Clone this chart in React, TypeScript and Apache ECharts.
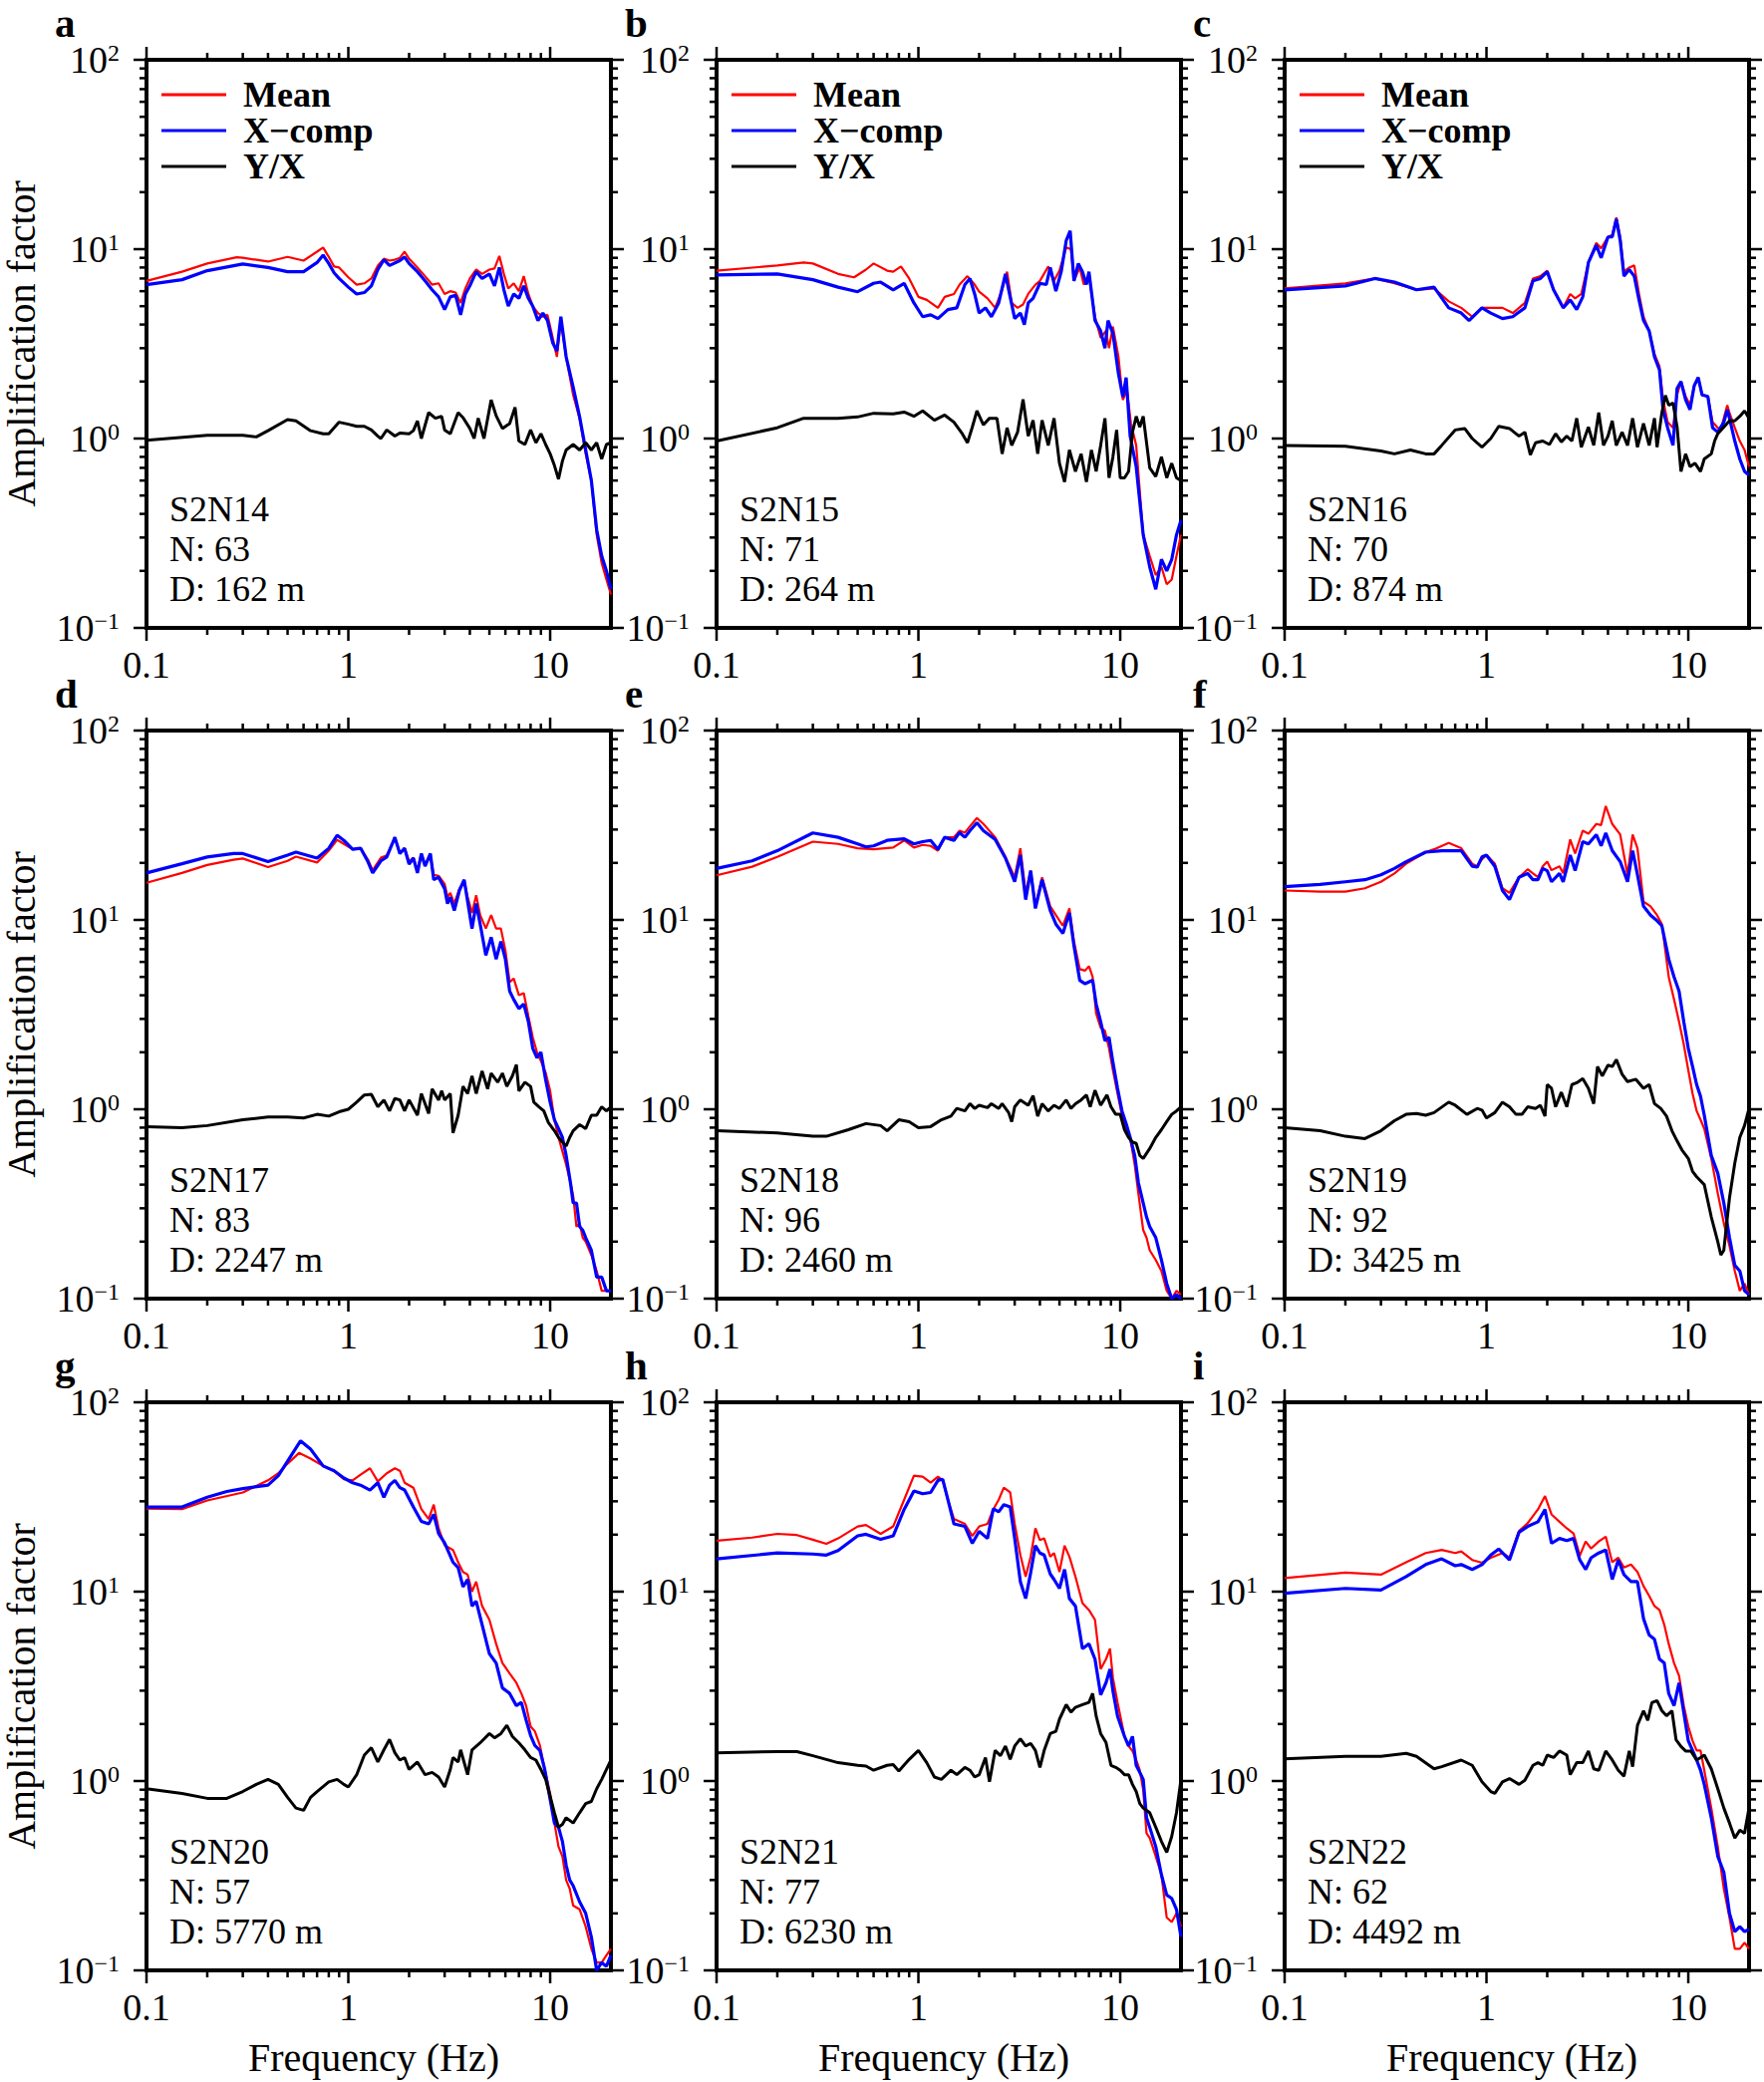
import React, { useEffect, useRef } from "react";
import * as echarts from "echarts";

type P = [number, number][];

// ---------- Tick positions ----------
const X_MAJOR = [0.1, 1, 10];
const X_MINOR = [0.2, 0.3, 0.4, 0.5, 0.6, 0.7, 0.8, 0.9, 2, 3, 4, 5, 6, 7, 8, 9];
const Y_MAJOR = [0.1, 1, 10, 100];
const Y_MINOR = [0.2, 0.3, 0.4, 0.5, 0.6, 0.7, 0.8, 0.9, 2, 3, 4, 5, 6, 7, 8, 9, 20, 30, 40, 50, 60, 70, 80, 90];

// ---------- Panel a: S2N14 ----------
const s2n14Mean: P = [[0.1,6.8],[0.15,7.6],[0.2,8.4],[0.28,9.06],[0.3,9.0],[0.4,8.6],[0.5,9.1],[0.6,8.7],[0.7,9.7],[0.75,10.2],[0.8,9.1],[0.85,8.1],[0.9,8.0],[1.0,7.1],[1.1,6.5],[1.2,6.6],[1.3,7.0],[1.4,8.2],[1.5,8.9],[1.6,8.7],[1.7,8.8],[1.8,9.0],[1.9,9.7],[2.0,8.9],[2.2,8.0],[2.4,7.2],[2.6,6.5],[2.8,6.6],[3.0,5.8],[3.2,6.0],[3.4,5.9],[3.6,5.2],[3.8,6.2],[4.0,7.0],[4.3,7.8],[4.6,7.4],[5.0,7.8],[5.3,7.9],[5.6,9.2],[5.9,7.4],[6.2,6.2],[6.6,6.6],[7.0,6.0],[7.4,7.2],[7.8,5.8],[8.2,5.0],[8.7,4.6],[9.2,4.4],[9.7,4.5],[10.3,3.4],[10.8,2.7],[11.3,4.2],[12,2.7],[13,1.7],[14,1.27],[15,0.83],[16,0.6],[17,0.31],[18,0.22],[19,0.18],[20,0.15]];
const s2n14X: P = [[0.1,6.5],[0.15,6.9],[0.2,7.7],[0.3,8.35],[0.4,8.0],[0.5,7.6],[0.6,7.6],[0.7,8.5],[0.75,9.3],[0.8,8.4],[0.85,7.5],[0.9,7.0],[1.0,6.3],[1.1,5.8],[1.2,5.9],[1.3,6.4],[1.4,7.8],[1.5,8.8],[1.6,8.2],[1.8,8.7],[1.9,9.1],[2.0,8.4],[2.2,7.6],[2.4,6.8],[2.6,6.1],[2.8,5.6],[3.0,4.8],[3.2,5.6],[3.4,5.7],[3.6,4.5],[3.8,5.8],[4.0,6.4],[4.3,7.6],[4.6,7.0],[5.0,7.4],[5.3,6.4],[5.6,8.0],[5.9,6.1],[6.2,5.0],[6.6,5.8],[7.0,5.5],[7.4,6.4],[7.8,5.5],[8.2,5.0],[8.7,4.2],[9.2,4.6],[9.7,4.2],[10.3,3.2],[10.8,2.9],[11.3,4.4],[12,2.7],[13,1.87],[14,1.3],[15,0.87],[16,0.6],[17,0.33],[18,0.24],[19,0.2],[20,0.16]];
const s2n14YX: P = [[0.1,0.98],[0.2,1.04],[0.3,1.04],[0.35,1.02],[0.4,1.10],[0.5,1.26],[0.55,1.24],[0.65,1.10],[0.75,1.06],[0.8,1.06],[0.9,1.22],[1.0,1.19],[1.1,1.16],[1.2,1.16],[1.3,1.11],[1.4,1.03],[1.45,1.0],[1.55,1.11],[1.7,1.03],[1.8,1.07],[2.0,1.06],[2.1,1.10],[2.2,1.24],[2.3,1.0],[2.5,1.37],[2.7,1.28],[2.9,1.31],[3.0,1.11],[3.2,1.06],[3.5,1.37],[3.7,1.29],[4.0,1.13],[4.2,1.0],[4.4,1.28],[4.7,1.0],[5.1,1.6],[5.4,1.32],[5.8,1.13],[6.3,1.2],[6.7,1.46],[7.0,0.97],[7.5,0.93],[8.0,1.11],[8.5,0.95],[9.0,1.06],[9.5,0.93],[10,0.83],[10.5,0.72],[11,0.61],[11.5,0.76],[12,0.87],[13,0.93],[14,0.87],[15,0.95],[16,0.87],[17,0.95],[18,0.78],[19,0.93],[20,0.95]];

// ---------- Panel b: S2N15 ----------
const s2n15Mean: P = [[0.1,7.7],[0.2,8.2],[0.27,8.5],[0.3,8.4],[0.4,7.4],[0.48,7.1],[0.55,7.8],[0.6,8.4],[0.7,7.7],[0.75,7.6],[0.82,8.1],[0.9,7.0],[1.0,5.6],[1.1,5.4],[1.25,4.9],[1.35,5.6],[1.5,5.8],[1.6,6.5],[1.75,7.2],[1.9,6.5],[2.0,5.96],[2.2,5.5],[2.4,4.9],[2.6,6.1],[2.75,7.6],[2.9,5.2],[3.1,4.9],[3.3,5.1],[3.5,5.8],[3.8,6.5],[4.0,6.8],[4.4,8.1],[4.7,6.8],[5.0,7.7],[5.4,10.2],[5.7,10.0],[5.9,6.8],[6.3,8.0],[6.6,6.5],[7.0,7.2],[7.5,4.4],[8,3.4],[8.5,3.7],[8.8,3.0],[9.2,3.9],[9.8,2.7],[10.3,1.6],[10.8,1.8],[11.3,1.2],[12,0.92],[13,0.31],[14,0.24],[15,0.19],[16,0.21],[17,0.17],[18,0.18],[19,0.24],[20,0.31]];
const s2n15X: P = [[0.1,7.3],[0.2,7.4],[0.3,6.9],[0.4,6.3],[0.5,5.96],[0.6,6.6],[0.65,6.7],[0.75,6.1],[0.85,6.6],[0.95,5.2],[1.05,4.4],[1.15,4.5],[1.25,4.3],[1.4,4.8],[1.55,4.9],[1.7,6.5],[1.8,7.0],[1.9,5.8],[2.0,4.6],[2.15,4.9],[2.3,4.4],[2.5,5.2],[2.7,7.4],[2.8,6.1],[3.0,4.3],[3.2,4.6],[3.35,4.0],[3.5,5.2],[3.7,5.5],[4.0,6.6],[4.3,6.5],[4.5,8.0],[4.8,6.0],[5.1,7.6],[5.4,11.1],[5.65,12.5],[5.9,6.8],[6.2,8.4],[6.5,7.6],[6.8,6.5],[7.0,7.6],[7.5,4.2],[8.0,3.7],[8.4,3.0],[8.7,4.2],[9.2,3.6],[9.8,2.2],[10.3,1.66],[10.7,2.1],[11.2,1.03],[12,0.71],[13,0.31],[14,0.21],[15,0.16],[16,0.23],[17,0.2],[18,0.23],[19,0.31],[20,0.37]];
const s2n15YX: P = [[0.1,0.97],[0.2,1.14],[0.27,1.28],[0.4,1.28],[0.5,1.3],[0.6,1.36],[0.75,1.35],[0.85,1.38],[0.95,1.31],[1.05,1.4],[1.2,1.25],[1.35,1.33],[1.5,1.22],[1.65,1.06],[1.75,0.95],[1.85,1.15],[1.95,1.4],[2.1,1.18],[2.25,1.28],[2.45,1.28],[2.6,0.83],[2.75,1.14],[2.9,0.92],[3.1,1.08],[3.3,1.61],[3.5,1.03],[3.7,1.25],[3.9,0.83],[4.1,1.25],[4.4,0.92],[4.7,1.28],[5.0,0.74],[5.3,0.59],[5.6,0.87],[6.0,0.67],[6.4,0.83],[6.8,0.59],[7.2,0.87],[7.6,0.67],[8.0,0.92],[8.4,1.28],[8.8,0.62],[9.2,0.8],[9.6,1.11],[10,0.62],[10.5,0.62],[11,0.67],[11.5,1.08],[12,1.31],[12.5,1.15],[13,1.31],[14,0.7],[15,0.63],[16,0.8],[17,0.62],[18,0.74],[19,0.62],[20,0.6]];

// ---------- Panel c: S2N16 ----------
const s2n16Mean: P = [[0.1,6.2],[0.2,6.6],[0.28,7.0],[0.35,6.6],[0.45,6.1],[0.55,6.2],[0.65,5.3],[0.75,4.9],[0.85,4.4],[0.95,4.9],[1.05,4.9],[1.2,4.9],[1.35,4.6],[1.55,5.2],[1.7,7.0],[1.85,7.2],[2.0,7.7],[2.15,6.1],[2.4,4.9],[2.6,5.8],[2.75,5.5],[2.95,5.8],[3.2,8.5],[3.5,10.8],[3.7,10.1],[4.0,11.6],[4.2,11.9],[4.4,14.7],[4.6,11.6],[4.8,7.6],[5.1,8.0],[5.4,8.2],[5.7,5.8],[6.0,4.4],[6.4,3.7],[6.8,2.8],[7.2,2.4],[7.5,1.6],[7.9,1.22],[8.4,1.14],[8.8,1.7],[9.2,2.0],[9.7,1.67],[10.2,1.5],[10.7,1.9],[11.2,2.1],[11.7,1.7],[12.5,1.67],[13.2,1.22],[14,1.14],[14.5,1.11],[15,1.28],[15.6,1.5],[16,1.37],[17,1.14],[18,0.97],[19,0.87],[20,0.71]];
const s2n16X: P = [[0.1,6.1],[0.2,6.4],[0.28,7.0],[0.35,6.7],[0.45,6.1],[0.55,6.3],[0.65,4.9],[0.75,4.6],[0.82,4.2],[0.95,4.9],[1.05,4.6],[1.2,4.3],[1.35,4.4],[1.55,4.9],[1.7,6.8],[1.85,7.0],[2.0,7.6],[2.15,6.1],[2.4,4.9],[2.6,5.4],[2.8,4.8],[3.0,5.6],[3.2,8.5],[3.5,10.5],[3.7,9.0],[4.0,11.6],[4.2,11.6],[4.4,14.4],[4.6,11.1],[4.8,7.2],[5.1,7.8],[5.4,7.2],[5.7,5.4],[6.0,4.2],[6.4,3.7],[6.8,2.7],[7.2,2.3],[7.5,1.42],[7.9,1.14],[8.4,0.92],[8.8,1.84],[9.2,2.0],[9.7,1.6],[10.2,1.42],[10.7,1.9],[11.2,2.1],[11.7,1.7],[12.5,1.67],[13.2,1.14],[14,1.08],[15,1.22],[15.6,1.42],[16,1.28],[17,0.97],[18,0.78],[19,0.67],[20,0.64]];
const s2n16YX: P = [[0.1,0.92],[0.2,0.91],[0.3,0.86],[0.35,0.83],[0.42,0.87],[0.5,0.83],[0.55,0.83],[0.6,0.92],[0.7,1.11],[0.78,1.13],[0.85,1.0],[0.95,0.9],[1.05,1.0],[1.15,1.16],[1.3,1.13],[1.45,1.03],[1.55,1.08],[1.65,0.82],[1.75,0.95],[1.9,0.97],[2.05,0.93],[2.2,1.06],[2.35,0.96],[2.5,1.03],[2.65,0.97],[2.8,1.28],[2.95,0.9],[3.2,1.15],[3.4,0.92],[3.6,1.37],[3.8,0.92],[4.0,1.03],[4.2,1.24],[4.4,0.92],[4.7,1.08],[5.0,0.92],[5.3,1.28],[5.6,0.9],[6.0,1.2],[6.4,0.92],[6.8,1.28],[7.0,0.9],[7.4,1.37],[7.7,1.69],[8.0,1.5],[8.4,1.54],[8.8,1.15],[9.2,0.67],[9.7,0.83],[10.2,0.71],[10.8,0.74],[11.5,0.67],[12,0.78],[13,0.83],[13.5,0.97],[14,1.06],[15,1.15],[16,1.24],[17,1.24],[18,1.31],[19,1.4],[20,1.28]];

// ---------- Panel d: S2N17 ----------
const s2n17Mean: P = [[0.1,15.7],[0.15,17.7],[0.2,19.5],[0.27,20.8],[0.3,21.1],[0.4,19.0],[0.5,20.5],[0.55,21.6],[0.7,20.1],[0.8,23.2],[0.88,26.5],[0.95,25.2],[1.05,23.6],[1.15,23.9],[1.25,20.8],[1.32,18.3],[1.45,21.3],[1.55,21.9],[1.65,25.2],[1.7,27.3],[1.8,22.4],[1.9,23.9],[2.0,20.3],[2.1,21.3],[2.2,18.3],[2.3,22.4],[2.4,19.7],[2.55,21.6],[2.65,17.3],[2.8,17.1],[3.0,15.5],[3.1,13.2],[3.2,13.9],[3.35,12.2],[3.55,14.6],[3.75,15.9],[3.9,13.2],[4.1,10.9],[4.3,13.5],[4.5,10.6],[4.8,9.0],[5.1,10.6],[5.4,9.0],[5.7,9.0],[6.0,6.9],[6.3,4.7],[6.6,4.9],[7.0,4.0],[7.4,4.1],[7.8,3.1],[8.2,2.4],[8.6,2.0],[9.0,1.8],[9.5,1.56],[10,1.25],[10.5,0.88],[11,0.71],[11.5,0.6],[12,0.51],[12.6,0.41],[13,0.35],[13.5,0.24],[14,0.25],[14.5,0.21],[15,0.2],[16,0.17],[17,0.14],[18,0.11],[19,0.11],[20,0.11]];
const s2n17X: P = [[0.1,17.7],[0.15,19.8],[0.2,21.5],[0.27,22.4],[0.3,22.4],[0.4,20.3],[0.5,22.0],[0.55,22.8],[0.7,21.2],[0.8,23.9],[0.88,28.0],[0.95,26.3],[1.05,23.6],[1.15,23.9],[1.25,20.3],[1.32,17.7],[1.45,20.5],[1.55,21.5],[1.65,25.2],[1.7,27.3],[1.8,22.4],[1.9,23.9],[2.0,19.7],[2.1,21.2],[2.2,17.7],[2.3,22.4],[2.4,19.2],[2.55,22.4],[2.65,16.3],[2.8,16.8],[3.0,14.6],[3.1,12.2],[3.2,13.2],[3.35,11.2],[3.55,14.3],[3.75,16.3],[3.9,12.5],[4.1,9.0],[4.3,12.2],[4.5,9.5],[4.8,6.5],[5.1,8.1],[5.4,6.2],[5.7,7.7],[6.0,6.2],[6.3,4.2],[6.6,3.8],[7.0,3.4],[7.4,3.6],[7.8,2.9],[8.2,2.1],[8.6,1.87],[9.0,2.0],[9.5,1.43],[10,1.09],[10.5,0.88],[11,0.79],[11.5,0.71],[12,0.57],[12.6,0.41],[13,0.32],[13.5,0.32],[14,0.24],[14.5,0.23],[15,0.21],[16,0.18],[17,0.13],[18,0.13],[19,0.11],[20,0.11]];
const s2n17YX: P = [[0.1,0.81],[0.15,0.8],[0.2,0.82],[0.3,0.88],[0.4,0.91],[0.5,0.91],[0.6,0.9],[0.7,0.94],[0.8,0.92],[0.9,0.97],[1.0,1.0],[1.1,1.09],[1.2,1.19],[1.3,1.2],[1.4,1.03],[1.5,1.12],[1.6,0.98],[1.7,1.14],[1.8,1.12],[1.9,0.98],[2.0,1.12],[2.2,0.93],[2.3,1.21],[2.5,0.95],[2.6,1.28],[2.8,1.12],[2.9,1.25],[3.0,1.12],[3.2,1.21],[3.3,0.75],[3.5,0.93],[3.7,1.32],[3.9,1.21],[4.1,1.5],[4.3,1.21],[4.6,1.59],[4.9,1.28],[5.1,1.55],[5.5,1.39],[5.8,1.55],[6.1,1.32],[6.5,1.5],[6.8,1.72],[7.0,1.25],[7.5,1.39],[8.0,1.32],[8.3,1.09],[8.8,1.03],[9.3,0.98],[9.8,0.85],[10.5,0.77],[11,0.71],[11.5,0.67],[12,0.64],[12.5,0.71],[13,0.77],[14,0.83],[15,0.79],[16,0.93],[17,0.93],[18,1.03],[19,0.98],[20,1.03]];

// ---------- Panel e: S2N18 ----------
const s2n18Mean: P = [[0.1,17.2],[0.15,19.1],[0.2,21.5],[0.3,25.9],[0.4,25.2],[0.5,23.9],[0.6,23.6],[0.75,24.1],[0.85,26.3],[0.95,24.1],[1.05,24.9],[1.15,24.6],[1.25,23.2],[1.35,27.3],[1.5,27.3],[1.6,29.6],[1.7,28.9],[1.8,31.2],[1.95,34.5],[2.1,32.1],[2.4,27.3],[2.7,21.5],[3.0,16.8],[3.2,23.9],[3.4,13.9],[3.6,18.2],[3.8,11.8],[4.1,16.8],[4.5,11.8],[4.8,10.6],[5.2,9.3],[5.6,11.5],[5.9,7.7],[6.3,5.5],[6.7,5.4],[7.0,5.7],[7.3,5.0],[7.6,3.2],[8.0,2.7],[8.4,2.6],[8.8,2.1],[9.2,1.61],[9.7,1.21],[10.2,0.93],[10.7,0.79],[11.2,0.71],[11.8,0.51],[12.3,0.36],[13,0.23],[13.5,0.21],[14,0.18],[15,0.16],[16,0.14],[17,0.11],[18,0.1],[19,0.11],[20,0.105]];
const s2n18X: P = [[0.1,18.7],[0.15,20.5],[0.2,23.2],[0.3,28.8],[0.4,27.3],[0.5,25.2],[0.55,24.3],[0.6,24.6],[0.7,26.3],[0.85,26.8],[0.95,25.2],[1.05,25.9],[1.15,26.3],[1.25,23.6],[1.35,27.3],[1.5,26.3],[1.6,28.9],[1.7,27.3],[1.8,29.6],[1.95,32.6],[2.1,29.6],[2.4,26.6],[2.7,21.2],[3.0,15.9],[3.2,22.0],[3.4,12.8],[3.6,18.2],[3.8,11.5],[4.1,16.3],[4.5,11.2],[4.8,9.5],[5.2,8.5],[5.6,10.9],[5.9,7.3],[6.3,4.8],[6.7,4.6],[7.0,4.7],[7.3,4.8],[7.6,3.6],[8.0,2.9],[8.4,2.3],[8.8,2.4],[9.2,1.77],[9.7,1.29],[10.2,0.98],[10.7,0.84],[11.2,0.71],[11.8,0.57],[12.3,0.41],[13,0.32],[13.5,0.27],[14,0.24],[15,0.21],[16,0.16],[17,0.12],[18,0.1],[19,0.105],[20,0.1]];
const s2n18YX: P = [[0.1,0.77],[0.2,0.75],[0.3,0.72],[0.35,0.72],[0.45,0.78],[0.55,0.84],[0.65,0.82],[0.7,0.77],[0.8,0.88],[0.9,0.86],[1.0,0.8],[1.15,0.81],[1.3,0.88],[1.45,0.92],[1.55,1.01],[1.7,0.98],[1.8,1.07],[1.9,1.01],[2.0,1.05],[2.2,1.02],[2.3,1.07],[2.5,1.01],[2.6,1.07],[2.8,0.96],[2.9,0.86],[3.0,1.03],[3.2,1.12],[3.5,1.05],[3.7,1.18],[3.9,0.92],[4.1,1.07],[4.4,0.98],[4.7,1.05],[5.0,1.01],[5.4,1.12],[5.7,1.01],[6.0,1.07],[6.4,1.12],[6.8,1.19],[7.1,1.03],[7.5,1.26],[8.0,1.05],[8.6,1.19],[9.0,1.03],[9.5,0.94],[10,0.94],[10.5,0.78],[11,0.71],[11.5,0.67],[12,0.66],[12.5,0.57],[13,0.55],[14,0.62],[15,0.71],[16,0.78],[17,0.86],[18,0.94],[19,0.98],[20,1.03]];

// ---------- Panel f: S2N19 ----------
const s2n19Mean: P = [[0.1,14.3],[0.15,14.1],[0.2,14.1],[0.25,14.7],[0.3,15.9],[0.35,17.6],[0.4,19.8],[0.5,22.8],[0.55,23.6],[0.65,25.5],[0.75,23.9],[0.85,19.8],[0.9,19.2],[0.95,20.9],[1.0,22.0],[1.1,19.8],[1.2,14.7],[1.3,13.9],[1.45,16.8],[1.6,18.5],[1.7,17.6],[1.8,16.8],[1.9,19.2],[2.0,20.3],[2.1,18.3],[2.3,19.2],[2.4,17.6],[2.6,26.6],[2.75,22.4],[3.0,29.6],[3.2,28.5],[3.5,32.1],[3.7,31.7],[3.9,39.9],[4.2,32.1],[4.6,28.2],[5.0,17.3],[5.3,28.2],[5.6,23.9],[6.0,12.5],[6.5,11.8],[7.0,10.6],[7.4,9.5],[8.0,5.0],[8.5,3.8],[9.0,2.9],[9.5,2.2],[10,1.61],[10.5,1.21],[11,0.98],[11.5,0.88],[12,0.79],[13,0.55],[14,0.36],[15,0.25],[16,0.19],[17,0.14],[18,0.11],[19,0.12],[20,0.105]];
const s2n19X: P = [[0.1,15.0],[0.15,15.4],[0.2,15.9],[0.25,16.3],[0.3,17.3],[0.35,18.7],[0.4,20.3],[0.5,22.8],[0.6,23.2],[0.75,23.2],[0.85,19.2],[0.9,19.0],[0.95,21.5],[1.0,22.0],[1.1,19.2],[1.2,14.3],[1.3,12.8],[1.45,16.8],[1.6,17.6],[1.7,16.3],[1.8,16.3],[1.9,18.7],[2.0,18.2],[2.1,15.9],[2.3,17.6],[2.4,15.9],[2.6,22.0],[2.75,18.2],[3.0,25.9],[3.2,25.2],[3.5,28.2],[3.7,24.6],[3.9,28.8],[4.2,23.2],[4.6,20.3],[5.0,15.9],[5.3,23.2],[5.6,17.3],[6.0,11.8],[6.5,10.6],[7.0,9.9],[7.4,9.3],[8.0,6.2],[8.5,5.0],[9.0,4.2],[9.5,2.9],[10,2.1],[10.5,1.68],[11,1.35],[11.5,1.17],[12,0.93],[13,0.57],[14,0.46],[15,0.32],[16,0.21],[17,0.15],[18,0.14],[19,0.11],[20,0.105]];
const s2n19YX: P = [[0.1,0.8],[0.15,0.77],[0.2,0.72],[0.25,0.7],[0.3,0.77],[0.35,0.87],[0.4,0.94],[0.45,0.95],[0.5,0.93],[0.55,0.96],[0.65,1.09],[0.7,1.05],[0.8,0.94],[0.9,1.01],[0.95,0.99],[1.0,0.9],[1.1,0.96],[1.2,1.09],[1.3,1.03],[1.4,0.94],[1.5,0.94],[1.6,1.03],[1.75,1.01],[1.85,1.05],[1.95,0.92],[2.0,1.35],[2.1,1.29],[2.2,1.03],[2.35,1.23],[2.5,1.03],[2.65,1.35],[2.8,1.38],[3.0,1.45],[3.2,1.29],[3.4,1.07],[3.55,1.68],[3.75,1.5],[4.0,1.71],[4.2,1.68],[4.4,1.83],[4.7,1.53],[5.0,1.4],[5.5,1.44],[6.0,1.29],[6.4,1.35],[6.8,1.07],[7.3,1.01],[7.8,0.92],[8.3,0.77],[8.8,0.68],[9.3,0.61],[10,0.55],[10.5,0.47],[11,0.44],[12,0.4],[13,0.27],[14,0.2],[14.5,0.17],[15,0.18],[15.5,0.25],[16,0.34],[17,0.52],[18,0.71],[19,0.82],[20,1.01]];

// ---------- Panel g: S2N20 ----------
const s2n20Mean: P = [[0.1,27.5],[0.15,27.3],[0.2,30.3],[0.3,33.4],[0.4,38.7],[0.45,42.2],[0.5,47.4],[0.57,54.0],[0.65,50.4],[0.75,46.1],[0.85,43.5],[0.95,39.2],[1.05,38.7],[1.15,41.5],[1.28,44.8],[1.4,38.2],[1.55,42.2],[1.7,44.8],[1.8,43.5],[1.9,37.6],[2.1,35.4],[2.3,27.3],[2.5,24.2],[2.65,28.8],[2.8,21.6],[3.0,17.6],[3.3,16.6],[3.5,14.3],[3.7,12.7],[3.9,12.3],[4.1,10.0],[4.3,11.3],[4.6,8.4],[5.0,7.1],[5.4,5.3],[5.8,4.2],[6.3,3.7],[6.8,3.3],[7.2,2.9],[7.6,2.5],[8.0,1.94],[8.4,1.83],[8.9,1.54],[9.4,1.15],[10,0.86],[10.5,0.6],[11,0.45],[11.5,0.4],[12,0.3],[12.5,0.27],[13,0.22],[14,0.21],[15,0.17],[16,0.13],[17,0.11],[18,0.11],[19,0.12],[20,0.13]];
const s2n20X: P = [[0.1,28.0],[0.15,28.0],[0.2,31.5],[0.25,33.8],[0.3,35.0],[0.4,36.5],[0.45,41.0],[0.5,48.9],[0.58,62.6],[0.65,56.6],[0.75,46.1],[0.85,43.5],[0.95,39.8],[1.05,37.6],[1.15,36.5],[1.28,34.4],[1.4,37.6],[1.5,31.5],[1.6,36.5],[1.7,38.7],[1.8,35.4],[1.9,34.4],[2.1,28.0],[2.3,23.5],[2.5,22.8],[2.65,25.6],[2.8,20.3],[3.0,18.1],[3.3,14.3],[3.5,13.4],[3.7,10.6],[3.9,11.6],[4.1,8.4],[4.3,8.9],[4.6,6.7],[5.0,4.7],[5.4,4.2],[5.8,3.1],[6.3,2.9],[6.8,2.5],[7.2,2.6],[7.6,2.1],[8.0,1.74],[8.4,1.54],[8.9,1.45],[9.4,1.15],[10,0.8],[10.5,0.6],[11,0.57],[11.5,0.48],[12,0.36],[12.5,0.3],[13,0.28],[14,0.23],[15,0.2],[16,0.15],[17,0.1],[18,0.11],[19,0.105],[20,0.12]];
const s2n20YX: P = [[0.1,0.91],[0.15,0.86],[0.2,0.81],[0.25,0.81],[0.3,0.88],[0.35,0.96],[0.4,1.02],[0.45,0.96],[0.5,0.82],[0.55,0.72],[0.6,0.7],[0.65,0.82],[0.7,0.88],[0.8,0.99],[0.88,1.02],[0.95,0.96],[1.0,0.93],[1.1,1.08],[1.2,1.37],[1.3,1.5],[1.4,1.26],[1.5,1.46],[1.6,1.66],[1.7,1.41],[1.8,1.29],[1.9,1.33],[2.0,1.15],[2.2,1.26],[2.4,1.08],[2.6,1.11],[2.8,1.05],[3.0,0.93],[3.2,1.15],[3.3,1.33],[3.5,1.26],[3.6,1.46],[3.9,1.08],[4.1,1.46],[4.5,1.59],[5.0,1.78],[5.3,1.69],[5.7,1.78],[6.1,1.97],[6.5,1.72],[7.0,1.59],[7.5,1.46],[8.0,1.33],[8.5,1.29],[9.0,1.15],[9.5,1.02],[10,0.83],[10.5,0.68],[11,0.57],[11.5,0.59],[12,0.64],[13,0.6],[14,0.68],[15,0.76],[16,0.78],[17,0.91],[18,1.02],[19,1.15],[20,1.29]];

// ---------- Panel h: S2N21 ----------
const s2n21Mean: P = [[0.1,18.6],[0.15,19.3],[0.2,20.2],[0.25,19.9],[0.3,18.8],[0.35,17.9],[0.4,19.1],[0.5,22.1],[0.55,22.5],[0.65,20.2],[0.75,22.1],[0.85,30.6],[0.95,41.0],[1.05,40.5],[1.15,37.6],[1.25,40.5],[1.32,38.7],[1.4,30.6],[1.5,24.2],[1.7,22.8],[1.85,19.7],[2.0,22.1],[2.2,22.8],[2.35,27.2],[2.5,30.6],[2.65,35.4],[2.85,33.4],[3.0,22.8],[3.2,15.6],[3.4,12.0],[3.6,15.3],[3.8,21.6],[4.0,18.7],[4.2,19.1],[4.5,15.3],[4.7,16.0],[5.0,12.7],[5.3,17.5],[5.6,15.3],[6.0,12.0],[6.5,8.7],[7.0,8.0],[7.5,7.1],[8.0,3.9],[8.5,4.4],[8.9,5.0],[9.2,3.5],[9.7,2.6],[10.5,1.72],[11,1.53],[11.5,1.44],[12,1.29],[12.5,1.14],[13,0.9],[13.5,0.53],[14,0.5],[15,0.4],[16,0.32],[17,0.19],[18,0.18],[19,0.2],[20,0.17]];
const s2n21X: P = [[0.1,14.9],[0.2,16.0],[0.3,15.8],[0.35,15.6],[0.4,16.5],[0.5,19.7],[0.55,20.1],[0.65,18.9],[0.75,19.7],[0.85,27.2],[0.95,34.0],[1.05,32.9],[1.15,33.4],[1.25,38.7],[1.32,39.2],[1.4,30.6],[1.5,22.8],[1.7,22.1],[1.85,18.0],[2.0,20.8],[2.2,19.1],[2.35,27.4],[2.5,26.4],[2.65,28.8],[2.85,28.0],[3.0,19.1],[3.2,11.3],[3.4,9.2],[3.6,12.6],[3.8,17.5],[4.0,16.0],[4.2,15.6],[4.5,12.4],[4.7,11.6],[5.0,10.4],[5.3,13.1],[5.6,9.2],[6.0,8.4],[6.5,5.0],[7.0,5.3],[7.5,4.4],[8.0,2.85],[8.5,3.3],[8.9,3.9],[9.2,3.0],[9.7,2.2],[10.5,1.72],[11,1.53],[11.5,1.72],[12,1.21],[12.5,1.11],[13,1.02],[13.5,0.64],[14,0.57],[15,0.45],[16,0.32],[17,0.25],[18,0.24],[19,0.21],[20,0.15]];
const s2n21YX: P = [[0.1,1.41],[0.2,1.43],[0.25,1.43],[0.3,1.36],[0.4,1.25],[0.5,1.21],[0.55,1.2],[0.6,1.14],[0.7,1.21],[0.75,1.22],[0.8,1.13],[0.9,1.3],[1.0,1.45],[1.1,1.25],[1.2,1.05],[1.3,1.02],[1.45,1.14],[1.55,1.08],[1.7,1.18],[1.8,1.14],[1.9,1.05],[2.0,1.08],[2.15,1.33],[2.25,0.99],[2.4,1.45],[2.55,1.36],[2.7,1.53],[2.85,1.3],[3.0,1.53],[3.2,1.67],[3.4,1.53],[3.6,1.58],[3.8,1.45],[4.0,1.18],[4.2,1.45],[4.5,1.78],[4.8,1.83],[5.0,2.12],[5.4,2.53],[5.7,2.31],[6.0,2.45],[6.5,2.53],[7.0,2.6],[7.3,2.9],[7.6,2.2],[8.0,1.78],[8.5,1.6],[9.0,1.21],[9.5,1.18],[10,1.14],[10.5,1.08],[11,1.08],[11.5,0.96],[12,0.88],[12.5,0.76],[13,0.72],[14,0.68],[15,0.57],[16,0.48],[17,0.42],[18,0.51],[19,0.68],[20,1.02]];

// ---------- Panel i: S2N22 ----------
const s2n22Mean: P = [[0.1,11.8],[0.2,12.6],[0.3,12.3],[0.4,14.3],[0.5,16.0],[0.6,16.6],[0.7,16.0],[0.75,16.3],[0.85,14.7],[0.95,14.2],[1.05,15.1],[1.2,16.0],[1.3,15.1],[1.45,20.9],[1.6,23.0],[1.8,27.2],[1.95,32.0],[2.1,25.6],[2.3,23.4],[2.5,21.6],[2.7,20.3],[2.9,15.5],[3.1,18.4],[3.3,16.9],[3.6,18.4],[3.9,19.5],[4.2,14.3],[4.5,15.1],[4.8,13.4],[5.2,13.9],[5.6,12.7],[6.0,10.7],[6.4,9.5],[6.8,8.4],[7.2,8.0],[7.6,6.7],[8.0,5.3],[8.5,4.2],[9.0,3.6],[9.5,2.5],[10,1.94],[10.5,1.63],[11,1.45],[11.5,1.45],[12,1.14],[13,0.72],[14,0.45],[15,0.27],[16,0.19],[17,0.13],[18,0.13],[19,0.14],[20,0.13]];
const s2n22X: P = [[0.1,9.8],[0.2,10.4],[0.3,10.2],[0.4,12.0],[0.5,13.9],[0.6,14.9],[0.7,13.7],[0.75,13.9],[0.85,13.1],[0.95,13.9],[1.05,15.6],[1.15,16.8],[1.3,14.7],[1.45,20.6],[1.6,22.1],[1.8,23.4],[1.95,27.2],[2.1,18.0],[2.3,19.1],[2.5,18.6],[2.7,19.1],[2.9,14.7],[3.1,13.1],[3.3,15.1],[3.6,16.0],[3.9,16.6],[4.2,11.6],[4.5,14.7],[4.8,12.3],[5.2,11.3],[5.6,11.3],[6.0,7.2],[6.4,5.9],[6.8,5.6],[7.2,4.4],[7.6,4.2],[8.0,2.9],[8.5,2.5],[9.0,3.3],[9.5,2.3],[10,1.63],[10.5,1.45],[11,1.29],[11.5,1.14],[12,0.96],[13,0.64],[14,0.4],[15,0.33],[16,0.2],[17,0.16],[18,0.17],[19,0.16],[20,0.165]];
const s2n22YX: P = [[0.1,1.31],[0.2,1.35],[0.3,1.35],[0.4,1.4],[0.45,1.35],[0.55,1.16],[0.6,1.19],[0.75,1.29],[0.85,1.21],[0.95,0.99],[1.05,0.88],[1.1,0.86],[1.2,0.99],[1.3,1.03],[1.45,0.96],[1.55,1.01],[1.7,1.21],[1.8,1.25],[1.9,1.21],[2.0,1.37],[2.15,1.33],[2.3,1.44],[2.5,1.37],[2.6,1.08],[2.8,1.25],[3.0,1.25],[3.2,1.44],[3.4,1.16],[3.6,1.14],[3.9,1.44],[4.2,1.29],[4.5,1.14],[4.8,1.06],[5.1,1.44],[5.3,1.19],[5.6,1.97],[6.0,2.35],[6.3,2.09],[6.6,2.59],[7.0,2.66],[7.4,2.35],[7.8,2.21],[8.3,2.35],[8.7,1.65],[9.2,1.52],[9.7,1.44],[10.3,1.44],[11,1.29],[11.5,1.33],[12,1.37],[13,1.16],[14,0.91],[15,0.72],[16,0.6],[17,0.5],[18,0.55],[19,0.53],[20,0.72]];

// ---------- Panel descriptors ----------
const letters = ["a", "b", "c", "d", "e", "f", "g", "h", "i"];
const stations = ["S2N14", "S2N15", "S2N16", "S2N17", "S2N18", "S2N19", "S2N20", "S2N21", "S2N22"];
const counts = [63, 71, 70, 83, 96, 92, 57, 77, 62];
const distances = [162, 264, 874, 2247, 2460, 3425, 5770, 6230, 4492];
const meanSeries = [s2n14Mean, s2n15Mean, s2n16Mean, s2n17Mean, s2n18Mean, s2n19Mean, s2n20Mean, s2n21Mean, s2n22Mean];
const xSeries = [s2n14X, s2n15X, s2n16X, s2n17X, s2n18X, s2n19X, s2n20X, s2n21X, s2n22X];
const yxSeries = [s2n14YX, s2n15YX, s2n16YX, s2n17YX, s2n18YX, s2n19YX, s2n20YX, s2n21YX, s2n22YX];
const legendNames = ["Mean", "X\u2212comp", "Y/X"];
const lineColors = ["#ff0000", "#0000ff", "#000000"];

// ---------- Layout ----------
const COL_LEFT = [147, 719, 1289];
const ROW_TOP = [60, 733, 1407];
const GW = 466;
const GH = 570;
const FONT = "'Liberation Serif', 'Times New Roman', serif";

const isDecade = (v: number) => {
  const l = Math.log10(v);
  return Math.abs(l - Math.round(l)) < 1e-6;
};

const tickRender = (params: any, api: any) => {
  const cs = params.coordSys;
  const children: any[] = [];
  const style = { stroke: "#000", lineWidth: 2.5 };
  const push = (x1: number, y1: number, x2: number, y2: number) =>
    children.push({ type: "line", shape: { x1, y1, x2, y2 }, style });
  const xt = (v: number, len: number) => {
    const x = api.coord([v, 1])[0];
    push(x, cs.y, x, cs.y - len);
    push(x, cs.y + cs.height, x, cs.y + cs.height + len);
  };
  const yt = (v: number, len: number) => {
    const y = api.coord([1, v])[1];
    push(cs.x, y, cs.x - len, y);
    push(cs.x + cs.width, y, cs.x + cs.width + len, y);
  };
  X_MAJOR.forEach((v) => xt(v, 13));
  X_MINOR.forEach((v) => xt(v, 7));
  Y_MAJOR.forEach((v) => yt(v, 13));
  Y_MINOR.forEach((v) => yt(v, 7));
  return { type: "group", children };
};

export default function App() {
  const ref = useRef<HTMLDivElement>(null);
  useEffect(() => {
    if (!ref.current) return;
    const chart = echarts.init(ref.current, undefined, { renderer: "svg" });
    const grids: any[] = [];
    const xAxes: any[] = [];
    const yAxes: any[] = [];
    const series: any[] = [];
    const graphics: any[] = [];
    const legends: any[] = [];

    for (let i = 0; i < 9; i++) {
      const col = i % 3;
      const row = Math.floor(i / 3);
      const left = COL_LEFT[col];
      const top = ROW_TOP[row];
      grids.push({
        left, top, width: GW, height: GH,
        show: true, borderWidth: 4, borderColor: "#000", backgroundColor: "transparent",
        containLabel: false, outerBoundsMode: "none",
      });
      xAxes.push({
        type: "log", logBase: 10, gridIndex: i, min: 0.1, max: 20,
        axisLine: { show: false }, axisTick: { show: false }, splitLine: { show: false }, minorTick: { show: false },
        axisLabel: {
          show: true, margin: 18, color: "#000", fontSize: 38, fontFamily: FONT,
          formatter: (v: number) => (isDecade(v) ? (v < 0.5 ? "0.1" : String(Math.round(v))) : ""),
        },
      });
      yAxes.push({
        type: "log", logBase: 10, gridIndex: i, min: 0.1, max: 100,
        axisLine: { show: false }, axisTick: { show: false }, splitLine: { show: false }, minorTick: { show: false },
        axisLabel: {
          show: true, margin: 27, color: "#000", fontFamily: FONT,
          formatter: (v: number) => {
            if (!isDecade(v)) return "";
            const e = Math.round(Math.log10(v));
            return `{b|10}{s|${e < 0 ? "\u2212" + -e : e}}`;
          },
          rich: {
            b: { fontSize: 38, fontFamily: FONT, color: "#000" },
            s: { fontSize: 24, fontFamily: FONT, color: "#000", verticalAlign: "top" },
          },
        },
      });
      series.push({
        type: "line", name: legendNames[0], xAxisIndex: i, yAxisIndex: i, data: meanSeries[i],
        symbol: "none", showSymbol: false, silent: true, color: lineColors[0],
        lineStyle: { color: lineColors[0], width: 2.2 }, z: 2,
      });
      series.push({
        type: "line", name: legendNames[1], xAxisIndex: i, yAxisIndex: i, data: xSeries[i],
        symbol: "none", showSymbol: false, silent: true, color: lineColors[1],
        lineStyle: { color: lineColors[1], width: 3.2 }, z: 3,
      });
      series.push({
        type: "line", name: legendNames[2], xAxisIndex: i, yAxisIndex: i, data: yxSeries[i],
        symbol: "none", showSymbol: false, silent: true, color: lineColors[2],
        lineStyle: { color: lineColors[2], width: 3 }, z: 4,
      });
      series.push({
        type: "custom", xAxisIndex: i, yAxisIndex: i, coordinateSystem: "cartesian2d",
        data: [[1, 1]], renderItem: tickRender, silent: true, clip: false, z: 5,
      });

      // panel letter
      graphics.push({
        type: "text", x: left - 92, y: top - 37,
        style: {
          text: letters[i], fontSize: 41, lineHeight: 30, fontWeight: "bold", fontFamily: FONT, fill: "#000",
          align: "left", verticalAlign: "middle", textAlign: "left", textVerticalAlign: "middle",
        },
      });
      // station info
      graphics.push({
        type: "text", x: left + 23, y: top + 431,
        style: {
          text: `${stations[i]}\nN: ${counts[i]}\nD: ${distances[i]} m`,
          fontSize: 36, lineHeight: 40, fontFamily: FONT, fill: "#000",
          align: "left", verticalAlign: "top", textAlign: "left", textVerticalAlign: "top",
        },
      });
      if (col === 0) {
        graphics.push({
          type: "text", x: 21, y: top + GH / 2, rotation: Math.PI / 2,
          style: {
            text: "Amplification factor", fontSize: 40, lineHeight: 30, fontFamily: FONT, fill: "#000",
            align: "center", verticalAlign: "middle", textAlign: "center", textVerticalAlign: "middle",
          },
        });
      }
      if (row === 2) {
        graphics.push({
          type: "text", x: left + GW / 2 - 5, y: 2064,
          style: {
            text: "Frequency (Hz)", fontSize: 40, lineHeight: 40, fontFamily: FONT, fill: "#000",
            align: "center", verticalAlign: "middle", textAlign: "center", textVerticalAlign: "middle",
          },
        });
      }
      if (row === 0) {
        legends.push({
          show: true, left: left + 15, top: 77, orient: "vertical", padding: 0,
          itemWidth: 65, itemHeight: 3, itemGap: 0, selectedMode: false, icon: "rect",
          data: legendNames.map((name, k) => ({ name, icon: "rect", itemStyle: { color: lineColors[k] } })),
          textStyle: {
            fontSize: 36, fontWeight: "bold", fontFamily: FONT, color: "#000",
            lineHeight: 34, padding: [0, 0, 0, 12],
          },
        });
      }
    }

    chart.setOption({
      animation: false,
      backgroundColor: "#ffffff",
      grid: grids,
      xAxis: xAxes,
      yAxis: yAxes,
      series,
      legend: legends,
      graphic: { elements: graphics },
    });
    return () => chart.dispose();
  }, []);

  return (
    <div
      ref={ref}
      style={{ position: "absolute", left: 0, top: 0, width: 1770, height: 2089, background: "#fff" }}
    />
  );
}
